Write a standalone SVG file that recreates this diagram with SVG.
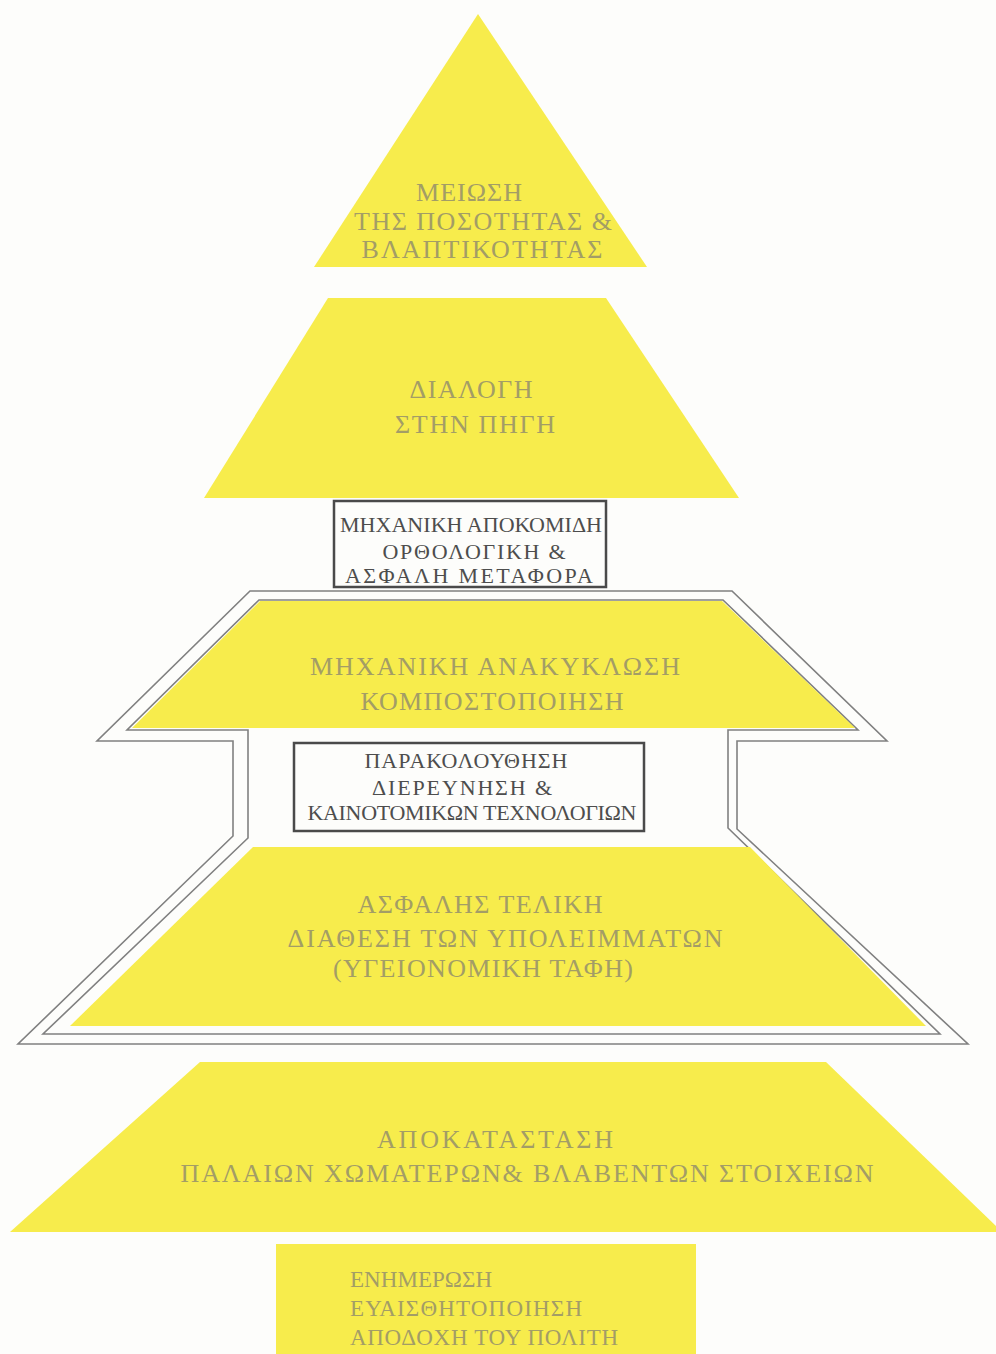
<svg xmlns="http://www.w3.org/2000/svg" width="996" height="1354" viewBox="0 0 996 1354">
<style>
.y{fill:#f7ec4c;stroke:none}
.t{font-family:"Liberation Serif","DejaVu Serif",serif;font-size:26px;fill:#a39d66}
.bt{font-family:"Liberation Serif","DejaVu Serif",serif;font-size:22px;fill:#4d4d4d}
.box{fill:#fdfdfb;stroke:#4a4a4a;stroke-width:2.5}
.frame{fill:none;stroke:#808080;stroke-width:1.6}
</style>
<rect x="0" y="0" width="996" height="1354" fill="#fdfdfb"/>
<g id="frame">
<path class="frame" d="M250,591 L732,591 L887,741 L737,741 L737,829 L968,1044 L18,1044 L233,836 L233,741 L97,741 Z"/>
<path class="frame" d="M259,600 L723,600 L858,730 L728,730 L728,828 L940,1034 L43,1034 L248,838 L248,730 L127,730 Z"/>
</g>
<g id="n1">
<polygon class="y" points="478,14 647,267 314,267"/>
<text class="t" x="469" y="201" text-anchor="middle" textLength="106">ΜΕΙΩΣΗ</text>
<text class="t" x="483" y="230" text-anchor="middle" textLength="258">ΤΗΣ ΠΟΣΟΤΗΤΑΣ &amp;</text>
<text class="t" x="482" y="258" text-anchor="middle" textLength="241">ΒΛΑΠΤΙΚΟΤΗΤΑΣ</text>
</g>
<g id="n2">
<polygon class="y" points="328,298 606,298 739,498 204,498"/>
<text class="t" x="471" y="398" text-anchor="middle" textLength="123">ΔΙΑΛΟΓΗ</text>
<text class="t" x="475" y="433" text-anchor="middle" textLength="160">ΣΤΗΝ ΠΗΓΗ</text>
</g>
<g id="n3">
<rect class="box" x="334" y="501" width="272" height="86"/>
<text class="bt" x="471" y="532" text-anchor="middle" textLength="262">ΜΗΧΑΝΙΚΗ ΑΠΟΚΟΜΙΔΗ</text>
<text class="bt" x="474" y="559" text-anchor="middle" textLength="183">ΟΡΘΟΛΟΓΙΚΗ &amp;</text>
<text class="bt" x="469" y="583" text-anchor="middle" textLength="248">ΑΣΦΑΛΗ  ΜΕΤΑΦΟΡΑ</text>
</g>
<g id="n4">
<polygon class="y" points="260,601 722,601 855,728 132,728"/>
<text class="t" x="495" y="675" text-anchor="middle" textLength="370">ΜΗΧΑΝΙΚΗ ΑΝΑΚΥΚΛΩΣΗ</text>
<text class="t" x="492" y="710" text-anchor="middle" textLength="263">ΚΟΜΠΟΣΤΟΠΟΙΗΣΗ</text>
</g>
<g id="n5">
<rect class="box" x="294" y="743" width="350" height="88"/>
<text class="bt" x="466" y="768" text-anchor="middle" textLength="203">ΠΑΡΑΚΟΛΟΥΘΗΣΗ</text>
<text class="bt" x="462" y="795" text-anchor="middle" textLength="180">ΔΙΕΡΕΥΝΗΣΗ &amp;</text>
<text class="bt" x="472" y="820" text-anchor="middle" textLength="329">ΚΑΙΝΟΤΟΜΙΚΩΝ  ΤΕΧΝΟΛΟΓΙΩΝ</text>
</g>
<g id="n6">
<polygon class="y" points="253,847 750,847 926,1026 70,1026"/>
<text class="t" x="480" y="913" text-anchor="middle" textLength="245">ΑΣΦΑΛΗΣ ΤΕΛΙΚΗ</text>
<text class="t" x="505" y="947" text-anchor="middle" textLength="435">ΔΙΑΘΕΣΗ ΤΩΝ ΥΠΟΛΕΙΜΜΑΤΩΝ</text>
<text class="t" x="483" y="977" text-anchor="middle" textLength="300">(ΥΓΕΙΟΝΟΜΙΚΗ ΤΑΦΗ)</text>
</g>
<g id="n7">
<polygon class="y" points="200,1062 826,1062 996,1226 996,1232 10,1232"/>
<text class="t" x="495" y="1148" text-anchor="middle" textLength="236">ΑΠΟΚΑΤΑΣΤΑΣΗ</text>
<text class="t" x="527" y="1182" text-anchor="middle" textLength="693">ΠΑΛΑΙΩΝ ΧΩΜΑΤΕΡΩΝ&amp; ΒΛΑΒΕΝΤΩΝ ΣΤΟΙΧΕΙΩΝ</text>
</g>
<g id="n8">
<rect class="y" x="276" y="1244" width="420" height="110"/>
<text class="t" x="350" y="1287" textLength="142" style="font-size:23px">ΕΝΗΜΕΡΩΣΗ</text>
<text class="t" x="350" y="1316" textLength="232" style="font-size:23px">ΕΥΑΙΣΘΗΤΟΠΟΙΗΣΗ</text>
<text class="t" x="350" y="1345" textLength="268" style="font-size:23px">ΑΠΟΔΟΧΗ ΤΟΥ ΠΟΛΙΤΗ</text>
</g>
</svg>
